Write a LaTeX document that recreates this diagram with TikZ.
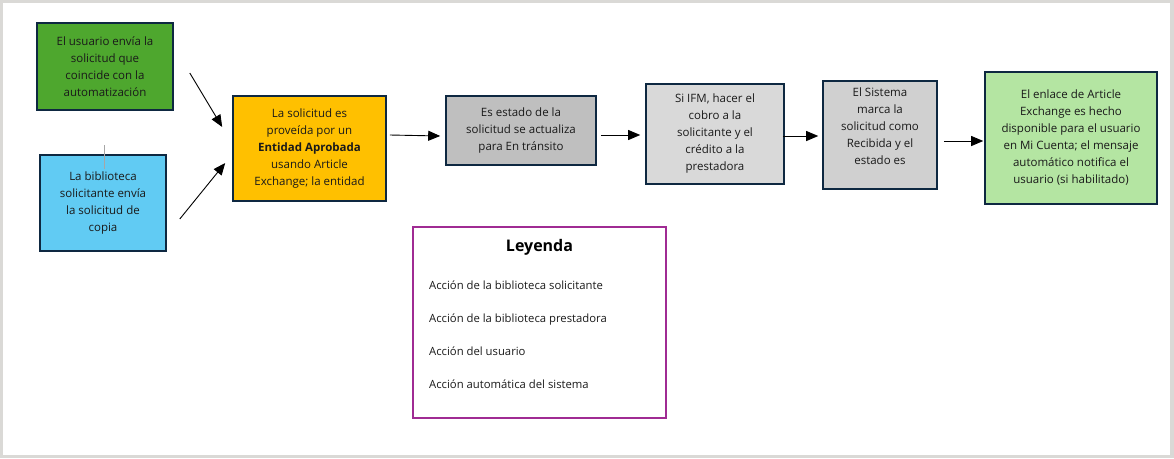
\documentclass[tikz,border=0pt]{standalone}
\usepackage{fontspec}
\setmainfont{Open Sans}
\usetikzlibrary{arrows.meta}

\definecolor{marco}{HTML}{DAD9D6}
\definecolor{borde}{HTML}{0E2841}
\definecolor{texto}{HTML}{1A1A1A}
\definecolor{usuario}{HTML}{4EA72E}
\definecolor{solicitante}{HTML}{61CBF3}
\definecolor{prestadora}{HTML}{FFC000}
\definecolor{sistema}{HTML}{BFBFBF}
\definecolor{sistemaclaro}{HTML}{D9D9D9}
\definecolor{sistemamedio}{HTML}{D0D0D0}
\definecolor{enlace}{HTML}{B4E5A2}
\definecolor{leyenda}{HTML}{A02B93}

\tikzset{
  paso/.style={draw=borde, line width=1.6pt, align=center, inner sep=0pt,
    text=texto, font=\fontsize{11.5}{17}\selectfont},
  accion/.style={anchor=base west, inner sep=0pt, text=texto, font=\fontsize{11.3}{13}\selectfont},
  flujo/.style={line width=0.9pt, -{Triangle[length=12pt,width=10pt]}},
}

\begin{document}
\begin{tikzpicture}[x=1pt,y=-1pt]

  \fill[marco] (0,0) rectangle (1174,458);
  \fill[white] (3,3) rectangle (1170,455);
  \useasboundingbox (0,0) rectangle (1174,458);

  \node[paso, fill=usuario, minimum width=136, minimum height=87] at (105, 66.5) (usr)
    {El usuario envía la\\solicitud que\\coincide con la\\automatización};
  \node[paso, fill=solicitante, minimum width=126, minimum height=96] at (103, 203) (bib)
    {La biblioteca\\solicitante envía\\la solicitud de\\copia};

  \node[paso, fill=prestadora, minimum width=153, minimum height=105] at (309.5, 148.5) (prov)
    {La solicitud es\\proveída por un\\\textbf{Entidad Aprobada}\\usando Article\\Exchange; la entidad};
  \node[paso, fill=sistema, minimum width=150, minimum height=69] at (521, 130.5) (trans)
    {Es estado de la\\solicitud se actualiza\\para En tránsito};
  \node[paso, fill=sistemaclaro, minimum width=138, minimum height=100] at (715, 134) (ifm)
    {Si IFM, hacer el\\cobro a la\\solicitante y el\\crédito a la\\prestadora};
  \node[paso, fill=sistemamedio, minimum width=114, minimum height=108] at (880, 135) (recib)
    {El Sistema\\marca la\\solicitud como\\Recibida y el\\estado es\\\phantom{actualizado}};
  \node[paso, fill=enlace, minimum width=172, minimum height=132] at (1071, 138) (link)
    {El enlace de Article\\Exchange es hecho\\disponible para el usuario\\en Mi Cuenta; el mensaje\\automático notifica el\\usuario (si habilitado)};

  % linea suelta sobre la caja azul
  \draw[gray!70, line width=0.8pt] ([xshift=1pt,yshift=9pt]bib.north) -- ++(0,24);

  \draw[flujo] ([xshift=16pt,yshift=-6.5pt]usr.east) to ([xshift=-10pt,yshift=21.5pt]prov.west);
  \draw[flujo] ([xshift=13pt,yshift=-16pt]bib.east) to ([xshift=-7pt,yshift=-14.5pt]prov.west);
  \draw[flujo] ([xshift=3pt,yshift=13.5pt]prov.east) to ([xshift=-5pt,yshift=-5.5pt]trans.west);
  \draw[flujo] ([xshift=4pt,yshift=-4.5pt]trans.east) to ([xshift=-5pt,yshift=-1pt]ifm.west);
  \draw[flujo] ([xshift=-2pt,yshift=-2pt]ifm.east) to ([xshift=-4pt,yshift=-1pt]recib.west);
  \draw[flujo] ([xshift=6pt,yshift=-6pt]recib.east) to ([xshift=-1pt,yshift=-3pt]link.west);

%Leyenda
  \node[draw=leyenda, line width=1.6pt, minimum width=253, minimum height=191] at (539.5, 322.5) (ley) {};
  \node[font=\bfseries\fontsize{16}{19}\selectfont] at (539.5, 247) (tit) {Leyenda};
  \node[accion] at (429, 289) (a1) {Acción de la biblioteca solicitante};
  \node[accion] at (429, 322) (a2) {Acción de la biblioteca prestadora};
  \node[accion] at (429, 355) (a3) {Acción del usuario};
  \node[accion] at (429, 388) (a4) {Acción automática del sistema};

\end{tikzpicture}
\end{document}
